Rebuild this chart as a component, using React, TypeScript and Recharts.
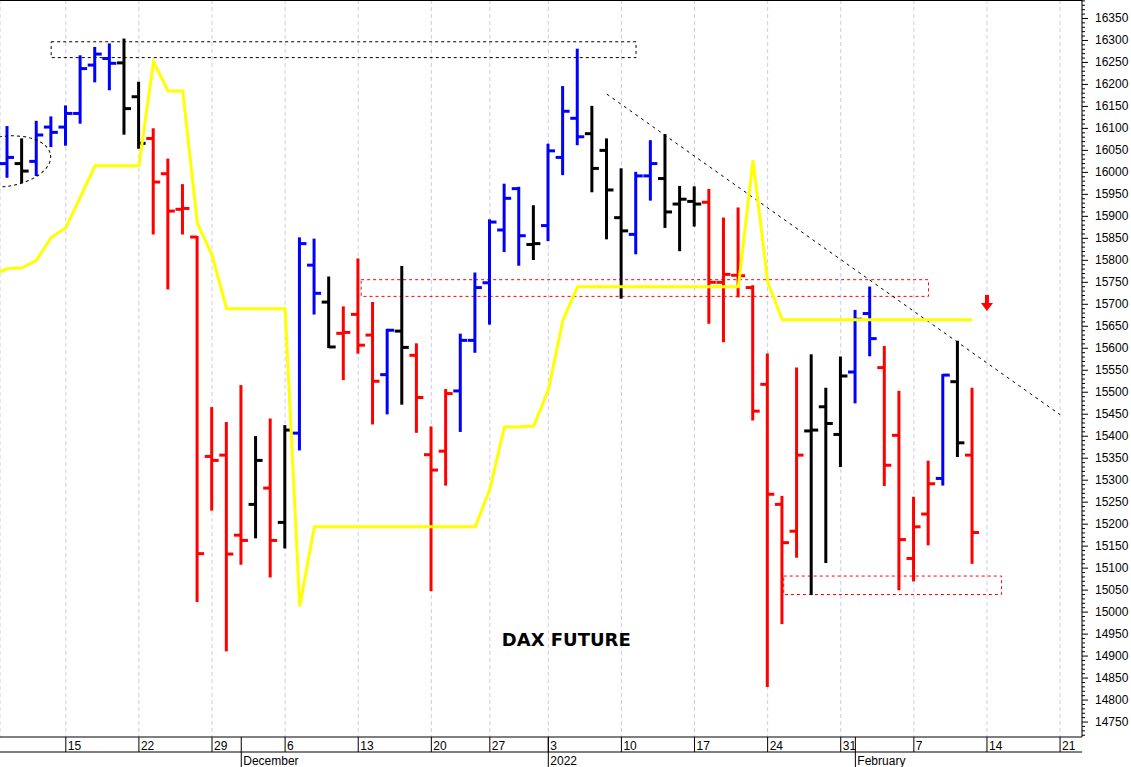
import {
  ComposedChart,
  Bar,
  Line,
  XAxis,
  YAxis,
  CartesianGrid,
  ReferenceArea,
  ReferenceLine,
  ReferenceDot,
} from 'recharts'

// trading days on the axis; Nov 8 sits just off the left edge, the last ones are still empty
const tradingDays = [
  '2021-11-08',
  '2021-11-09', '2021-11-10', '2021-11-11', '2021-11-12', '2021-11-15', '2021-11-16', '2021-11-17',
  '2021-11-18', '2021-11-19', '2021-11-22', '2021-11-23', '2021-11-24', '2021-11-25', '2021-11-26',
  '2021-11-29', '2021-11-30', '2021-12-01', '2021-12-02', '2021-12-03', '2021-12-06', '2021-12-07',
  '2021-12-08', '2021-12-09', '2021-12-10', '2021-12-13', '2021-12-14', '2021-12-15', '2021-12-16',
  '2021-12-17', '2021-12-20', '2021-12-21', '2021-12-22', '2021-12-23', '2021-12-27', '2021-12-28',
  '2021-12-29', '2021-12-30', '2022-01-03', '2022-01-04', '2022-01-05', '2022-01-06', '2022-01-07',
  '2022-01-10', '2022-01-11', '2022-01-12', '2022-01-13', '2022-01-14', '2022-01-17', '2022-01-18',
  '2022-01-19', '2022-01-20', '2022-01-21', '2022-01-24', '2022-01-25', '2022-01-26', '2022-01-27',
  '2022-01-28', '2022-01-31', '2022-02-01', '2022-02-02', '2022-02-03', '2022-02-04', '2022-02-07',
  '2022-02-08', '2022-02-09', '2022-02-10', '2022-02-11', '2022-02-14', '2022-02-15', '2022-02-16',
  '2022-02-17', '2022-02-18', '2022-02-21', '2022-02-22',
]

// OHLC from Nov 9 onwards
const opens = [
  16020, 16020, 16025, 16103, 16103, 16134, 16244, 16259, 16249, 16172,
  16077, 15997, 15916, 15853, 15354, 15357, 15175, 15245, 15282, 15204,
  15407, 15789, 15705, 15634, 15677, 15630, 15540, 15639, 15584, 15358,
  15366, 15503, 15618, 15749, 15869, 15963, 15836, 15879, 16034, 16123,
  16088, 16050, 15897, 15859, 15992, 15986, 15928, 15934, 15932, 15750,
  15766, 15738, 15518, 15245, 15184, 15412, 15467, 15404, 15546, 15679,
  15556, 15402, 15122, 15223, 15304, 15524, 15357,
]
const highs = [
  16103, 16075, 16115, 16125, 16150, 16264, 16283, 16291, 16302, 16204,
  16098, 16029, 15971, 15853, 15464, 15430, 15514, 15398, 15438, 15423,
  15850, 15847, 15761, 15693, 15802, 15703, 15642, 15785, 15609, 15420,
  15505, 15631, 15770, 15891, 15972, 15965, 15923, 16063, 16194, 16279,
  16149, 16075, 16007, 15999, 16071, 16085, 15967, 15966, 15960, 15895,
  15918, 15741, 15586, 15262, 15554, 15584, 15508, 15579, 15685, 15738,
  15603, 15501, 15260, 15342, 15539, 15615, 15508,
]
const lows = [
  15990, 15978, 15994, 16060, 16063, 16113, 16207, 16189, 16088, 16056,
  15861, 15736, 15861, 15025, 15233, 14913, 15110, 15170, 15081, 15147,
  15370, 15679, 15603, 15530, 15590, 15429, 15452, 15474, 15410, 15050,
  15290, 15412, 15592, 15656, 15821, 15790, 15803, 15846, 15996, 16064,
  15957, 15850, 15715, 15816, 15938, 15876, 15823, 15879, 15658, 15616,
  15718, 15438, 14832, 14975, 15126, 15041, 15114, 15332, 15477, 15584,
  15289, 15052, 15072, 15154, 15290, 15355, 15112,
]
const closes = [
  16034, 16003, 16085, 16091, 16134, 16236, 16269, 16248, 16145, 16066,
  15978, 15912, 15918, 15133, 15345, 15132, 15163, 15345, 15163, 15414,
  15838, 15725, 15603, 15636, 15607, 15525, 15641, 15602, 15488, 15323,
  15497, 15618, 15738, 15887, 15941, 15856, 15838, 16049, 16139, 16081,
  16009, 15960, 15867, 15992, 16020, 15910, 15939, 15928, 15750, 15768,
  15765, 15457, 15268, 15158, 15357, 15414, 15429, 15537, 15666, 15622,
  15334, 15165, 15194, 15292, 15539, 15385, 15181,
]
// u = up (blue), f = neutral (black), d = down (red)
const trend = [
  'u', 'f', 'u', 'u', 'u', 'u', 'u', 'u', 'f', 'f',
  'd', 'd', 'd', 'd', 'd', 'd', 'd', 'f', 'd', 'f',
  'u', 'u', 'f', 'd', 'd', 'd', 'u', 'f', 'd', 'd',
  'd', 'u', 'u', 'u', 'u', 'u', 'f', 'u', 'u', 'u',
  'f', 'f', 'f', 'u', 'u', 'f', 'f', 'f', 'd', 'd',
  'd', 'd', 'd', 'd', 'd', 'f', 'f', 'f', 'u', 'u',
  'd', 'd', 'd', 'd', 'u', 'f', 'd',
]
// yellow stop line, from Nov 8
const stopLine = [
  15766,
  15781, 15783, 15800, 15852, 15874, 15944, 16015, 16015, 16015, 16015,
  16251, 16185, 16185, 15884, 15812, 15690, 15690, 15690, 15690, 15690,
  15013, 15194, 15194, 15194, 15194, 15194, 15194, 15194, 15194, 15194,
  15194, 15194, 15194, 15279, 15421, 15421, 15423, 15505, 15664, 15740,
  15740, 15740, 15740, 15740, 15740, 15740, 15740, 15740, 15740, 15740,
  15740, 16028, 15751, 15665, 15665, 15665, 15665, 15665, 15665, 15665,
  15665, 15665, 15665, 15665, 15665, 15665, 15665,
]

const monthMarks = [
  { date: '2021-12-01', label: 'December' },
  { date: '2022-01-03', label: '2022' },
  { date: '2022-02-01', label: 'February' },
]

const Y_MIN = 14716
const Y_MAX = 16392
const X_MIN = 0.5
const X_MAX = 74.5

const trendColor: Record<string, string> = { u: '#0000ff', f: '#000000', d: '#ff0000' }
const FONT = '"Liberation Sans", Arial, sans-serif'

const idxOf = (date: string) => tradingDays.indexOf(date)

const data = tradingDays.map((d, i) => ({
  i,
  open: opens[i - 1],
  high: highs[i - 1],
  low: lows[i - 1],
  close: closes[i - 1],
  trend: trend[i - 1],
  stop: stopLine[i],
}))

const mondayTicks = tradingDays
  .map((d, i) => ({ d, i }))
  .filter(({ d, i }) => i >= X_MIN && new Date(d + 'T12:00:00').getDay() === 1)
  .map(({ i }) => i)

const monthTicks = monthMarks.map((m) => idxOf(m.date))

const yTicks: number[] = []
for (let v = 14720; v <= 16390; v += 10) yTicks.push(v)

const OhlcBar = (props: any) => {
  const { x, y, width, height, payload } = props
  if (payload == null || payload.open == null) return null
  const top = Math.min(y, y + height)
  const bottom = Math.max(y, y + height)
  const toY = (v: number) => top + ((payload.high - v) / (payload.high - payload.low)) * (bottom - top)
  const cx = x + width / 2
  const oy = toY(payload.open)
  const cy = toY(payload.close)
  return (
    <g stroke={trendColor[payload.trend]} strokeWidth={3}>
      <line x1={cx} x2={cx} y1={top - 1} y2={bottom + 1} />
      <line x1={cx - 7} x2={cx} y1={oy} y2={oy} />
      <line x1={cx} x2={cx + 7} y1={cy} y2={cy} />
    </g>
  )
}

const DayTick = (props: any) => {
  const { x, y, payload } = props
  const day = Number(tradingDays[payload.value].slice(8))
  return (
    <g>
      <line x1={x} x2={x} y1={y} y2={y + 15} stroke="#000" />
      <text x={x + 2} y={y + 13} fontSize={12} fontFamily={FONT} fill="#000">
        {day}
      </text>
    </g>
  )
}

const MonthTick = (props: any) => {
  const { x, y, payload } = props
  const mark = monthMarks.find((m) => idxOf(m.date) === payload.value)
  return (
    <g>
      <line x1={x} x2={x} y1={y - 15} y2={y + 15} stroke="#000" />
      <text x={x + 2} y={y + 13} fontSize={12} fontFamily={FONT} fill="#000">
        {mark ? mark.label : ''}
      </text>
    </g>
  )
}

const PriceTick = (props: any) => {
  const { x, y, payload } = props
  const major = payload.value % 50 === 0
  return (
    <g>
      <line x1={x} x2={x + (major ? 6 : 3)} y1={y} y2={y} stroke="#000" />
      {major && (
        <text x={x + 13} y={y + 4} fontSize={12} fontFamily={FONT} fill="#000">
          {payload.value}
        </text>
      )}
    </g>
  )
}

export default function App() {
  return (
    <div style={{ position: 'absolute', left: 0, top: 0, width: 1131, height: 767, background: '#fff' }}>
      <ComposedChart width={1131} height={767} data={data} margin={{ top: 0, right: 0, bottom: 0, left: 0 }}>
        <CartesianGrid horizontal={false} stroke="#c9cdf0" strokeDasharray="4 3" />
        <XAxis
          dataKey="i"
          type="number"
          domain={[X_MIN, X_MAX]}
          allowDataOverflow
          ticks={mondayTicks}
          interval={0}
          tick={<DayTick />}
          tickLine={false}
          tickSize={0}
          tickMargin={0}
          height={15}
          stroke="#000"
        />
        <XAxis
          xAxisId="month"
          dataKey="i"
          type="number"
          domain={[X_MIN, X_MAX]}
          allowDataOverflow
          ticks={monthTicks}
          interval={0}
          tick={<MonthTick />}
          tickLine={false}
          tickSize={0}
          tickMargin={0}
          height={15}
          stroke="#000"
        />
        <YAxis
          orientation="right"
          type="number"
          domain={[Y_MIN, Y_MAX]}
          allowDataOverflow
          ticks={yTicks}
          interval={0}
          tick={<PriceTick />}
          tickLine={false}
          tickSize={0}
          tickMargin={0}
          width={49}
          stroke="#000"
        />
        <ReferenceLine y={Y_MAX} stroke="#000" strokeWidth={2} />

        <ReferenceArea x1={4} x2={44} y1={16261} y2={16297} fill="none" stroke="#000" strokeDasharray="3 3" />
        <ReferenceArea x1={25.2} x2={64} y1={15718} y2={15756} fill="none" stroke="#ff0000" strokeDasharray="3 3" />
        <ReferenceArea x1={54.1} x2={69} y1={15040} y2={15082} fill="none" stroke="#ff0000" strokeDasharray="3 3" />
        <ReferenceLine
          segment={[{ x: 42, y: 16178 }, { x: 73, y: 15449 }]}
          stroke="#000"
          strokeDasharray="3 4"
        />
        <ReferenceDot
          x={0.84}
          y={16025}
          shape={(p: any) => (
            <ellipse
              cx={p.cx}
              cy={p.cy}
              rx={46}
              ry={25}
              transform={`rotate(-8 ${p.cx} ${p.cy})`}
              fill="none"
              stroke="#000"
              strokeDasharray="3 3"
            />
          )}
        />

        <Bar
          dataKey={(d: any) => (d.low == null ? null : [d.low, d.high])}
          barSize={14}
          shape={OhlcBar}
          isAnimationActive={false}
        />
        <Line
          type="linear"
          dataKey="stop"
          stroke="#ffff00"
          strokeWidth={3}
          dot={false}
          activeDot={false}
          isAnimationActive={false}
        />

        <ReferenceDot
          x={68}
          y={15703}
          shape={(p: any) => (
            <g fill="#ff0000">
              <rect x={p.cx - 2} y={p.cy - 8} width={4} height={9} />
              <polygon points={`${p.cx - 6},${p.cy} ${p.cx + 6},${p.cy} ${p.cx},${p.cy + 8}`} />
            </g>
          )}
        />
        <ReferenceDot
          x={39.23}
          y={14922}
          shape={(p: any) => (
            <text
              x={p.cx}
              y={p.cy}
              textAnchor="middle"
              fontSize={18}
              fontWeight="bold"
              fontFamily='"DejaVu Sans", Verdana, sans-serif'
              fill="#000"
            >
              DAX FUTURE
            </text>
          )}
        />
      </ComposedChart>
    </div>
  )
}
